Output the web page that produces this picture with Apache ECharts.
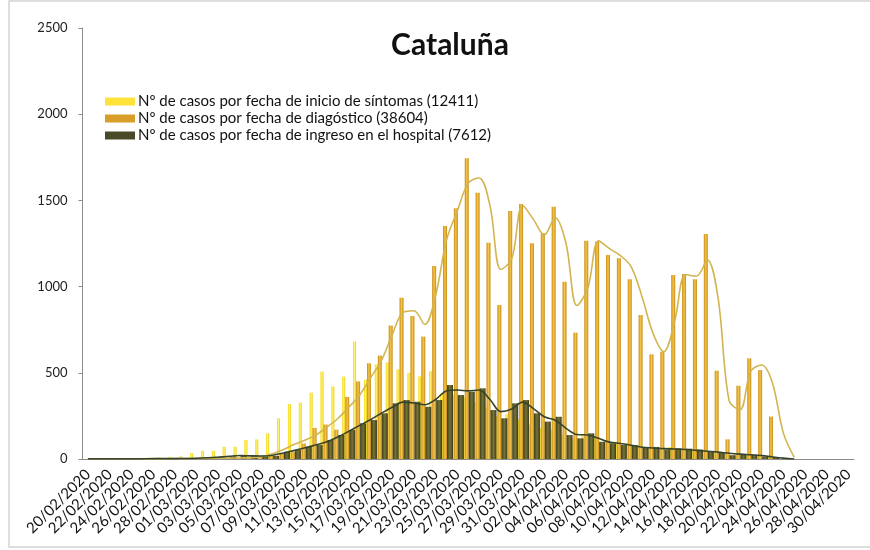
<!DOCTYPE html>
<html>
<head>
<meta charset="utf-8">
<script src="https://cdn.jsdelivr.net/npm/echarts@6/dist/echarts.min.js"></script>
<style>html,body{margin:0;padding:0;background:#fff}#c{width:870px;height:550px}</style>
</head>
<body>
<div id="c"></div>
<script>
const categories = [
"20/02/2020","21/02/2020","22/02/2020","23/02/2020","24/02/2020","25/02/2020","26/02/2020","27/02/2020","28/02/2020","29/02/2020",
"01/03/2020","02/03/2020","03/03/2020","04/03/2020","05/03/2020","06/03/2020","07/03/2020","08/03/2020","09/03/2020","10/03/2020",
"11/03/2020","12/03/2020","13/03/2020","14/03/2020","15/03/2020","16/03/2020","17/03/2020","18/03/2020","19/03/2020","20/03/2020",
"21/03/2020","22/03/2020","23/03/2020","24/03/2020","25/03/2020","26/03/2020","27/03/2020","28/03/2020","29/03/2020","30/03/2020",
"31/03/2020","01/04/2020","02/04/2020","03/04/2020","04/04/2020","05/04/2020","06/04/2020","07/04/2020","08/04/2020","09/04/2020",
"10/04/2020","11/04/2020","12/04/2020","13/04/2020","14/04/2020","15/04/2020","16/04/2020","17/04/2020","18/04/2020","19/04/2020",
"20/04/2020","21/04/2020","22/04/2020","23/04/2020","24/04/2020","25/04/2020","26/04/2020","27/04/2020","28/04/2020","29/04/2020",
"30/04/2020"];

const seriesNames = [
"Nº de casos por fecha de inicio de síntomas (12411)",
"Nº de casos por fecha de diagóstico (38604)",
"Nº de casos por fecha de ingreso en el hospital (7612)"];

const sintomas = [
0,2,0,2,3,5,8,10,12,15,
35,48,48,71,71,110,114,149,236,319,
327,385,507,420,478,681,460,550,560,520,
500,480,510,380,370,360,330,300,250,260,
230,200,180,170,140,120,140,130,110,100,
90,80,70,60,70,60,55,50,40,30,
25,20,15,10,5,0,0,0,0,0,
0];

const diagnostico = [
0,0,0,0,0,1,0,2,1,3,
3,5,2,8,5,10,15,20,30,40,
90,180,200,170,360,450,555,600,775,935,
830,710,1119,1351,1454,1744,1545,1255,893,1438,
1479,1251,1309,1463,1028,733,1266,1260,1183,1164,
1042,835,607,622,1067,1073,1042,1305,512,114,
425,584,516,246,0,0,0,0,0,0,
0];

const hospital = [
0,0,1,0,1,2,1,2,3,2,
4,6,10,15,22,20,12,18,42,52,
71,81,110,139,168,207,226,265,323,342,
332,303,342,429,371,390,410,284,236,323,
342,265,217,245,139,120,149,100,91,81,
80,65,70,55,62,60,55,45,40,22,
30,25,15,10,3,0,0,0,0,0,
0];

const tendenciaDiagnostico = [
0,0,0,0,0,1,1,1,2,2,
3,3,4,5,6,8,15,30,55,85,
110,140,185,235,300,370,470,570,720,850,
860,780,950,1270,1440,1600,1630,1470,1100,1160,
1470,1390,1300,1400,1250,890,990,1265,1220,1180,
1115,940,730,622,800,1070,1060,1155,930,340,
285,510,545,440,150,10,null,null,null,null,
null];

const tendenciaHospital = [
1,1,1,1,1,1,2,2,2,3,
4,7,11,16,20,18,17,22,35,50,
65,82,100,128,160,195,228,265,300,330,
325,315,345,395,400,395,400,345,275,290,
330,292,245,225,178,142,139,120,98,90,
80,68,64,60,58,55,50,45,40,33,
28,25,20,12,5,0,null,null,null,null,
null];

const yTicks = [0, 500, 1000, 1500, 2000, 2500];

const chart = echarts.init(document.getElementById('c'), null, {renderer: 'canvas'});
const G = echarts.graphic.LinearGradient;
const FONT = 'Lato, "Liberation Sans", sans-serif';

const option = {
  backgroundColor: '#fff',
  animation: false,
  textStyle: {fontFamily: FONT},
  title: {
    text: 'Cataluña', left: 445, top: 25, textAlign: 'center',
    textStyle: {fontFamily: FONT, fontSize: 30, fontWeight: 'bold', color: '#111'}
  },
  legend: {
    orient: 'vertical', left: 100, top: 89,
    itemWidth: 30, itemHeight: 8, itemGap: 2,
    textStyle: {fontFamily: FONT, fontSize: 15, color: '#111', lineHeight: 15, padding: [0,0,0,-2]},
    icon: 'rect'
  },
  graphic: [{
    type: 'rect', shape: {x: 9, y: 1, width: 872, height: 546},
    style: {fill: 'none', stroke: '#d4d4d4', lineWidth: 1.5}, silent: true
  }],
  grid: {left: 82.5, right: 16, top: 28, bottom: 91, containLabel: false},
  xAxis: {
    type: 'category', data: categories, boundaryGap: true,
    axisLine: {lineStyle: {color: '#8c8c8c', width: 1}},
    axisTick: {interval: 1, length: 4, lineStyle: {color: '#8c8c8c'}},
    axisLabel: {interval: 1, rotate: 45, fontSize: 15, color: '#111', margin: 13, fontFamily: FONT}
  },
  yAxis: {
    type: 'value', min: yTicks[0], max: yTicks[yTicks.length-1], interval: 500,
    axisLine: {show: true, lineStyle: {color: '#8c8c8c'}},
    axisTick: {show: true, length: 4, lineStyle: {color: '#8c8c8c'}},
    splitLine: {show: false},
    axisLabel: {fontSize: 13, color: '#222', margin: 15, fontFamily: FONT, formatter: v => String(v)}
  },
  series: [
    {
      name: seriesNames[0], type: 'bar', data: sintomas, barWidth: 3, barGap: '0%',
      itemStyle: {color: new G(0,0,1,0,[{offset:0,color:'#f5d800'},{offset:0.5,color:'#fff27a'},{offset:1,color:'#eccc00'}])}
    },
    {
      name: seriesNames[1], type: 'bar', data: diagnostico, barWidth: 4, barGap: '0%',
      itemStyle: {color: new G(0,0,1,0,[{offset:0,color:'#c98a10'},{offset:0.5,color:'#f4c54a'},{offset:1,color:'#c48812'}])}
    },
    {
      name: seriesNames[2], type: 'bar', data: hospital, barWidth: 6, barGap: '0%',
      itemStyle: {color: new G(0,0,1,0,[{offset:0,color:'#3d3d18'},{offset:0.5,color:'#76743a'},{offset:1,color:'#3a3a17'}])}
    },
    {
      name: 'tendencia diagnóstico', type: 'line', data: tendenciaDiagnostico, smooth: 0.35,
      showSymbol: false, symbol: 'none', z: 5,
      lineStyle: {color: '#d2b550', width: 1.6}
    },
    {
      name: 'tendencia hospital', type: 'line', data: tendenciaHospital, smooth: 0.35,
      showSymbol: false, symbol: 'none', z: 5,
      lineStyle: {color: '#36442c', width: 1.6}
    }
  ]
};
option.legend.data = seriesNames.map((n, i) => ({
  name: n,
  itemStyle: {color: ['#ffe23a', '#d89e28', '#4a4a28'][i]}
}));
chart.setOption(option);
</script>
</body>
</html>
